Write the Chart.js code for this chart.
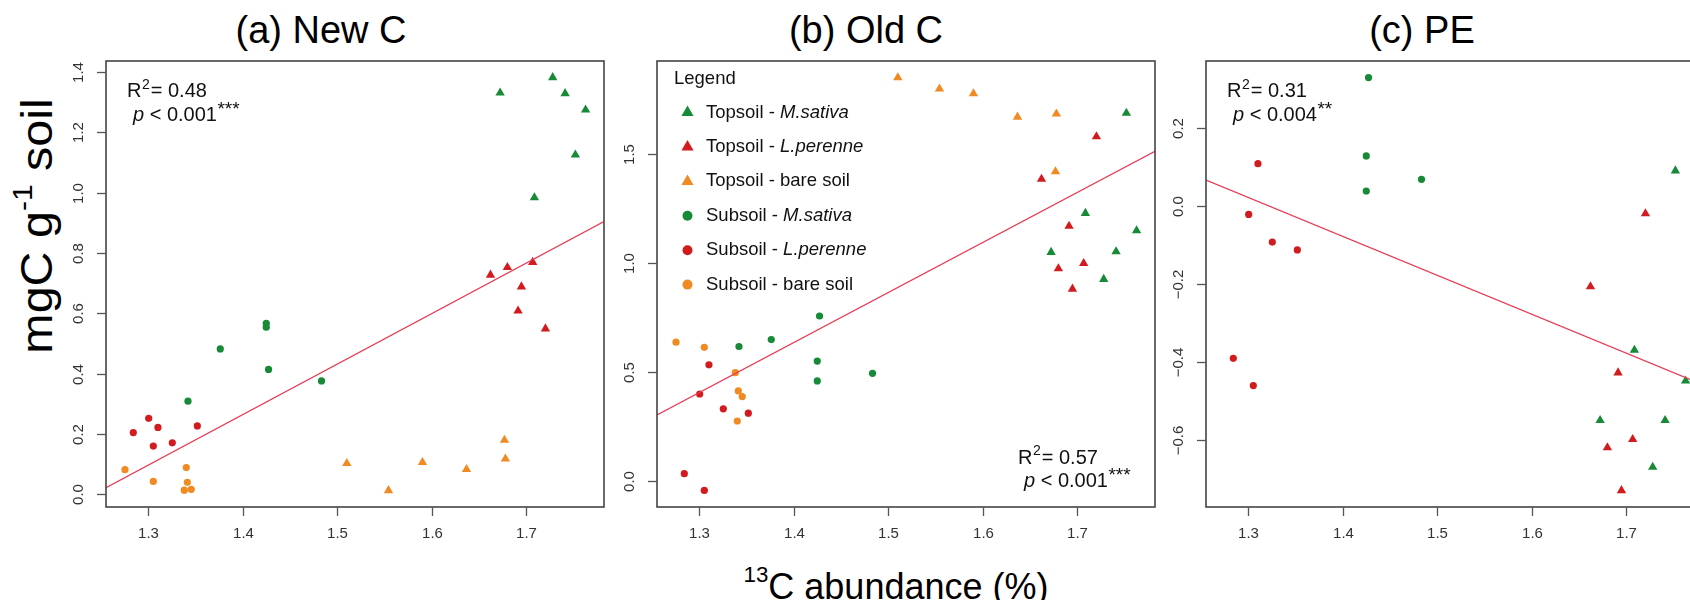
<!DOCTYPE html>
<html><head><meta charset="utf-8">
<script src="https://cdn.jsdelivr.net/npm/chart.js@4.4.1/dist/chart.umd.min.js"></script>
<style>
html,body{margin:0;padding:0;background:#fff;width:1690px;height:600px;overflow:hidden;position:relative;font-family:"Liberation Sans",Arial,sans-serif;color:#000;}
canvas{position:absolute;top:0;}
.ttl{position:absolute;top:11px;height:38px;line-height:38px;font-size:38px;white-space:nowrap;transform:translateX(-50%);}
#xt{position:absolute;left:896px;top:569px;font-size:36px;line-height:36px;white-space:nowrap;transform:translateX(-50%);}
#yt{position:absolute;left:40px;top:226px;font-size:44px;line-height:44px;white-space:nowrap;transform:translate(-50%,-50%) rotate(-90deg) scaleX(1.1);}
sup{font-size:62%;vertical-align:0;position:relative;top:-0.75em;}
</style></head><body>
<div class="ttl" style="left:321px">(a) New C</div>
<div class="ttl" style="left:866px">(b) Old C</div>
<div class="ttl" style="left:1422px">(c) PE</div>
<div id="yt">mgC g<sup>-1</sup> soil</div>
<div id="xt"><sup>13</sup>C abundance (%)</div>
<canvas id="ca" width="598" height="600" style="left:36px"></canvas>
<canvas id="cb" width="598" height="600" style="left:587px"></canvas>
<canvas id="cc" width="598" height="600" style="left:1136px"></canvas>
<script>
// ---------- DATA ----------
const xTicks = [1.3, 1.4, 1.5, 1.6, 1.7];
const xTickLabels = ['1.3', '1.4', '1.5', '1.6', '1.7'];
const xRange = [1.2552, 1.7825];

// 13C abundance (%) per sample group (shared by the three panels)
const xTopMsativa  = [1.6725, 1.7282, 1.7413, 1.7522, 1.7088, 1.7630];
const xTopLperenne = [1.6623, 1.6802, 1.7070, 1.6951, 1.6915, 1.7205];
const xTopBare     = [1.5102, 1.5543, 1.5903, 1.6369, 1.6771, 1.6781];
const xSubMsativa  = [1.3420, 1.3762, 1.4249, 1.4249, 1.4273, 1.4834];
const xSubLperenne = [1.2841, 1.3004, 1.3102, 1.3053, 1.3254, 1.3519];
const xSubBare     = [1.2753, 1.3053, 1.3402, 1.3413, 1.3381, 1.3455];

// (a) New C
const newCTopMsativa  = [1.330, 1.381, 1.328, 1.125, 0.983, 1.274];
const newCTopLperenne = [0.727, 0.752, 0.769, 0.688, 0.608, 0.549];
const newCTopBare     = [0.103, 0.013, 0.106, 0.083, 0.180, 0.118];
const newCSubMsativa  = [0.309, 0.482, 0.567, 0.554, 0.414, 0.376];
const newCSubLperenne = [0.205, 0.252, 0.222, 0.160, 0.171, 0.227];
const newCSubBare     = [0.082, 0.043, 0.089, 0.040, 0.014, 0.017];
const newCFit   = [0.022, 0.904];            // fitted line at xRange ends
const newCYRange = [-0.0417, 1.4357];
const newCYTicks = [0, 0.2, 0.4, 0.6, 0.8, 1.0, 1.2, 1.4];
const newCYLabels = ['0.0', '0.2', '0.4', '0.6', '0.8', '1.0', '1.2', '1.4'];
const newCStats = ['0.48', '0.001', '***'];

// (b) Old C
const oldCTopMsativa  = [1.051, 0.927, 1.054, 1.690, 1.230, 1.150];
const oldCTopLperenne = [1.387, 0.976, 1.000, 0.882, 1.171, 1.582];
const oldCTopBare     = [1.853, 1.801, 1.779, 1.672, 1.421, 1.686];
const oldCSubMsativa  = [0.618, 0.650, 0.551, 0.460, 0.758, 0.495];
const oldCSubLperenne = [0.034, 0.400, 0.534, -0.043, 0.332, 0.312];
const oldCSubBare     = [0.638, 0.614, 0.276, 0.414, 0.498, 0.388];
const oldCFit   = [0.304, 1.514];
const oldCYRange = [-0.119, 1.929];
const oldCYTicks = [0, 0.5, 1.0, 1.5];
const oldCYLabels = ['0.0', '0.5', '1.0', '1.5'];
const oldCStats = ['0.57', '0.001', '***'];

// (c) PE
const peTopMsativa  = [-0.549, -0.669, -0.549, 0.091, -0.369, -0.448];
const peTopLperenne = [-0.206, -0.619, -0.598, -0.729, -0.427, -0.019];
const peSubMsativa  = [null, null, 0.129, 0.039, 0.330, 0.069];
const peSubLperenne = [-0.390, -0.021, 0.109, -0.460, -0.092, -0.112];
const peFit   = [0.067, -0.459];
const peYRange = [-0.7714, 0.3724];
const peYTicks = [-0.6, -0.4, -0.2, 0, 0.2];
const peYLabels = ['\u22120.6', '\u22120.4', '\u22120.2', '0.0', '0.2'];
const peStats = ['0.31', '0.004', '**'];

// legend
const legendTitle = 'Legend';
const seriesSoil = ['Topsoil', 'Topsoil', 'Topsoil', 'Subsoil', 'Subsoil', 'Subsoil'];
const seriesPlant = ['M.sativa', 'L.perenne', 'bare soil', 'M.sativa', 'L.perenne', 'bare soil'];
const seriesItalic = [true, true, false, true, true, false];

// ---------- STYLE ----------
const GREEN = '#178a38', RED = '#d21b1f', ORANGE = '#f08a22', LINE = '#e63a55';
const colors = [GREEN, RED, ORANGE, GREEN, RED, ORANGE];
const shapes = ['triangle', 'triangle', 'triangle', 'circle', 'circle', 'circle'];
const FONT = '"Liberation Sans", Arial, sans-serif';

function series(idx, xs, ys) {
  return {
    type: 'scatter',
    label: seriesSoil[idx] + ' - ' + seriesPlant[idx],
    data: xs.map((x, i) => ({x: x, y: ys[i]})),
    pointStyle: shapes[idx],
    pointRadius: shapes[idx] === 'triangle' ? 5.4 : 3.6,
    pointHoverRadius: shapes[idx] === 'triangle' ? 5.4 : 3.6,
    backgroundColor: colors[idx],
    borderWidth: 0,
    order: 2
  };
}
function fitLine(ys) {
  return {
    type: 'line',
    data: [{x: xRange[0], y: ys[0]}, {x: xRange[1], y: ys[1]}],
    borderColor: LINE, borderWidth: 1.3, pointRadius: 0, fill: false, order: 1
  };
}

function drawStats(ctx, x, y, stats) {
  const fs = 20;
  ctx.fillStyle = '#111';
  ctx.textAlign = 'left'; ctx.textBaseline = 'alphabetic';
  ctx.font = fs + 'px ' + FONT;
  ctx.fillText('R', x, y);
  let cx = x + ctx.measureText('R').width;
  ctx.font = Math.round(fs * 0.68) + 'px ' + FONT;
  ctx.fillText('2', cx + 0.5, y - fs * 0.42);
  cx += ctx.measureText('2').width + 1.5;
  ctx.font = fs + 'px ' + FONT;
  ctx.fillText('= ' + stats[0], cx, y);
  // p line
  const y2 = y + 23.5;
  let px = x + 6;
  ctx.font = 'italic ' + fs + 'px ' + FONT;
  ctx.fillText('p', px, y2);
  px += ctx.measureText('p').width;
  ctx.font = fs + 'px ' + FONT;
  const t = ' < ' + stats[1];
  ctx.fillText(t, px, y2);
  px += ctx.measureText(t).width + 0.5;
  ctx.font = Math.round(fs * 0.95) + 'px ' + FONT;
  ctx.fillText(stats[2], px, y2 - fs * 0.3);
}

function drawLegend(ctx, a) {
  const fs = 18.5;
  ctx.fillStyle = '#111';
  ctx.textAlign = 'left'; ctx.textBaseline = 'middle';
  ctx.font = fs + 'px ' + FONT;
  ctx.fillText(legendTitle, a.left + 17, a.top + 18);
  for (let i = 0; i < seriesSoil.length; i++) {
    const yc = a.top + 51.6 + i * 34.4;
    const sx = a.left + 30.5;
    ctx.fillStyle = colors[i];
    ctx.beginPath();
    if (shapes[i] === 'triangle') {
      const r = 7;
      ctx.moveTo(sx, yc - r);
      ctx.lineTo(sx + r * 0.866, yc + r * 0.5);
      ctx.lineTo(sx - r * 0.866, yc + r * 0.5);
      ctx.closePath();
    } else {
      ctx.arc(sx, yc, 5, 0, Math.PI * 2);
    }
    ctx.fill();
    ctx.fillStyle = '#111';
    let tx = a.left + 49;
    ctx.font = fs + 'px ' + FONT;
    const pre = seriesSoil[i] + ' - ';
    ctx.fillText(pre, tx, yc);
    tx += ctx.measureText(pre).width;
    ctx.font = (seriesItalic[i] ? 'italic ' : '') + fs + 'px ' + FONT;
    ctx.fillText(seriesPlant[i], tx, yc);
  }
}

const rFrame = {
  id: 'rframe',
  afterDatasetsDraw(chart, args, o) {
    const ctx = chart.ctx, a = chart.chartArea, xs = chart.scales.x, ys = chart.scales.y;
    ctx.save();
    ctx.strokeStyle = '#444'; ctx.lineWidth = 1.6;
    ctx.strokeRect(a.left, a.top, a.right - a.left, a.bottom - a.top);
    ctx.strokeStyle = '#555'; ctx.lineWidth = 1.3;
    ctx.fillStyle = '#333';
    ctx.font = '15px ' + FONT;
    ctx.textAlign = 'center'; ctx.textBaseline = 'middle';
    xTicks.forEach((v, i) => {
      const px = Math.round(xs.getPixelForValue(v)) + 0.5;
      ctx.beginPath(); ctx.moveTo(px, a.bottom); ctx.lineTo(px, a.bottom + 9); ctx.stroke();
      ctx.fillText(xTickLabels[i], px, a.bottom + 27);
    });
    o.yTicks.forEach((v, i) => {
      const py = Math.round(ys.getPixelForValue(v)) + 0.5;
      ctx.beginPath(); ctx.moveTo(a.left, py); ctx.lineTo(a.left - 9, py); ctx.stroke();
      ctx.save();
      ctx.translate(a.left - 27, py); ctx.rotate(-Math.PI / 2);
      ctx.fillText(o.yLabels[i], 0, 0);
      ctx.restore();
    });
    if (o.statsPos === 'tl') drawStats(ctx, a.left + 21, a.top + 36, o.stats);
    else drawStats(ctx, a.right - 137, a.bottom - 43.5, o.stats);
    if (o.legend) drawLegend(ctx, a);
    ctx.restore();
  }
};

function makePanel(id, datasets, yRange, yTicks, yLabels, stats, statsPos, legend) {
  return new Chart(document.getElementById(id), {
    data: {datasets: datasets},
    options: {
      responsive: false, animation: false, devicePixelRatio: 1,
      layout: {padding: {left: 70, right: 30, top: 61, bottom: 93}},
      scales: {
        x: {type: 'linear', display: false, min: xRange[0], max: xRange[1]},
        y: {type: 'linear', display: false, min: yRange[0], max: yRange[1]}
      },
      plugins: {
        legend: {display: false}, tooltip: {enabled: false},
        rframe: {yTicks: yTicks, yLabels: yLabels, stats: stats, statsPos: statsPos, legend: legend}
      }
    },
    plugins: [rFrame]
  });
}

makePanel('ca', [
  fitLine(newCFit),
  series(0, xTopMsativa, newCTopMsativa), series(1, xTopLperenne, newCTopLperenne),
  series(2, xTopBare, newCTopBare), series(3, xSubMsativa, newCSubMsativa),
  series(4, xSubLperenne, newCSubLperenne), series(5, xSubBare, newCSubBare)
], newCYRange, newCYTicks, newCYLabels, newCStats, 'tl', false);

makePanel('cb', [
  fitLine(oldCFit),
  series(0, xTopMsativa, oldCTopMsativa), series(1, xTopLperenne, oldCTopLperenne),
  series(2, xTopBare, oldCTopBare), series(3, xSubMsativa, oldCSubMsativa),
  series(4, xSubLperenne, oldCSubLperenne), series(5, xSubBare, oldCSubBare)
], oldCYRange, oldCYTicks, oldCYLabels, oldCStats, 'br', true);

makePanel('cc', [
  fitLine(peFit),
  series(0, xTopMsativa, peTopMsativa), series(1, xTopLperenne, peTopLperenne),
  series(3, xSubMsativa, peSubMsativa), series(4, xSubLperenne, peSubLperenne)
], peYRange, peYTicks, peYLabels, peStats, 'tl', false);
</script>
</body></html>
